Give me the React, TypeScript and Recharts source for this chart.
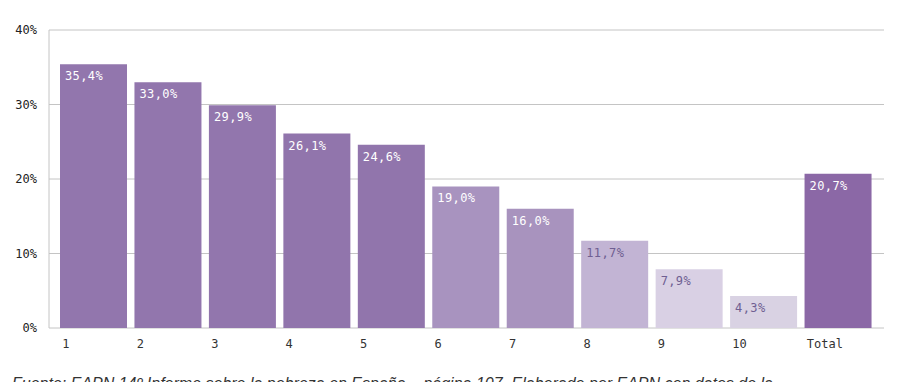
import { Bar, BarChart, CartesianGrid, Cell, LabelList, XAxis, YAxis } from 'recharts'

const deciles = ['1', '2', '3', '4', '5', '6', '7', '8', '9', '10', 'Total']
const rates = [35.4, 33.0, 29.9, 26.1, 24.6, 19.0, 16.0, 11.7, 7.9, 4.3, 20.7]
const yTicks = [0, 10, 20, 30, 40]

const barColors = ['#9276ad', '#9276ad', '#9276ad', '#9175ac', '#9175ac', '#a893bf', '#a893be', '#c2b4d4', '#d9d0e4', '#d9d2e3', '#8b68a6']
const labelColors = ['#fff', '#fff', '#fff', '#fff', '#fff', '#fff', '#fff', '#6f5f92', '#6f5f92', '#6f5f92', '#fff']

const data = deciles.map((name, i) => ({ name, value: rates[i], idx: i }))

const MONO = '"DejaVu Sans Mono", monospace'

const fmt = (v: number) => `${v.toFixed(1).replace('.', ',')}%`

function XTick({ x, y, payload }: any) {
  return (
    <text x={x - 31} y={y + 12} textAnchor="start" fontFamily={MONO} fontSize={12} fill="#333">
      {payload.value}
    </text>
  )
}

function InnerLabel(props: any) {
  const { x, y, value, index } = props
  return (
    <text x={x + 5} y={y + 16} fontFamily={MONO} fontSize={12} letterSpacing={0.4} fill={labelColors[index]}>
      {fmt(value)}
    </text>
  )
}

export default function App() {
  return (
    <div style={{ position: 'absolute', left: 0, top: 0, width: 900, height: 382, overflow: 'hidden', background: '#fff' }}>
      <BarChart width={900} height={382} data={data} margin={{ top: 30, right: 16, left: 0, bottom: 24 }}>
        <CartesianGrid stroke="#c4c4c4" vertical={false} />
        <XAxis dataKey="name" tick={<XTick />} tickLine={false} axisLine={false} height={30} padding={{ left: 7, right: 9 }} interval={0} />
        <YAxis
          domain={[0, 40]}
          ticks={yTicks}
          width={49}
          tickLine={false}
          axisLine={{ stroke: '#c4c4c4' }}
          tickFormatter={(v) => `${v}%`}
          tick={{ fontFamily: MONO, fontSize: 12, fill: '#222' }}
          tickMargin={6}
        />
        <Bar dataKey="value" barSize={67} isAnimationActive={false}>
          {data.map((d) => (
            <Cell key={d.name} fill={barColors[d.idx]} />
          ))}
          <LabelList dataKey="value" content={<InnerLabel />} />
        </Bar>
      </BarChart>
      <div
        style={{
          position: 'absolute',
          left: 12,
          top: 374,
          fontFamily: '"Liberation Sans", Arial, sans-serif',
          fontStyle: 'italic',
          fontSize: 16,
          lineHeight: '20px',
          color: '#333',
          whiteSpace: 'nowrap',
        }}
      >
        Fuente: EAPN 14º Informe sobre la pobreza en España – página 107. Elaborado por EAPN con datos de la
      </div>
    </div>
  )
}
